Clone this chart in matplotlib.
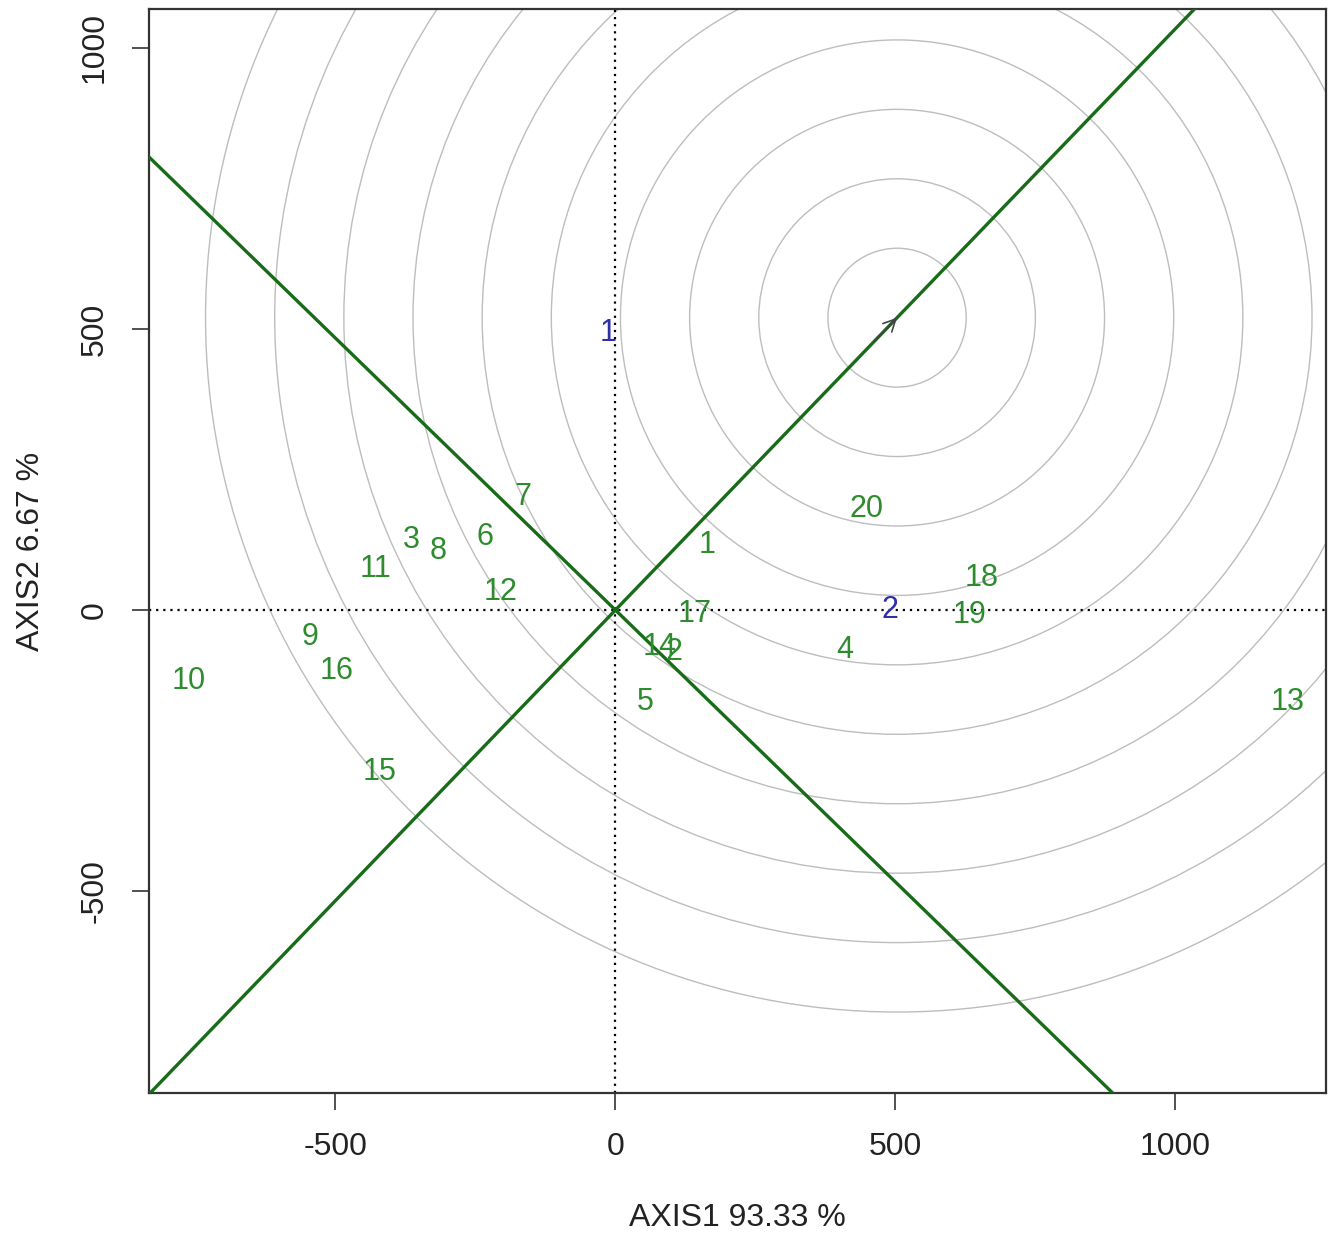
import numpy as np
import matplotlib
matplotlib.use("Agg")
import matplotlib.pyplot as plt
from matplotlib import font_manager
from matplotlib.patches import Circle

# genotype scores (AXIS1, AXIS2)
gen_labels = [str(i) for i in range(1, 21)]
gen_x = [163, 104, -365, 410, 54, -233, -165, -317, -546, -762,
         -429, -205, 1201, 79, -421, -498, 142, 654, 633, 449]
gen_y = [116, -75, 125, -71, -164, 130, 201, 105, -48, -126,
         73, 32, -164, -66, -288, -108, -7, 57, -9, 180]

# environment scores
env_labels = ["1", "2"]
env_x = [-13, 490]
env_y = [493, 0]

# ideal genotype (centre of the concentric circles)
ideal_x, ideal_y = 503, 520
circle_step = 123.5
n_circles = 10

xlim = (-833, 1269)
ylim = (-859, 1069)

names = {f.name for f in font_manager.fontManager.ttflist}
fam = "Liberation Sans Narrow" if "Liberation Sans Narrow" in names else "Liberation Sans"
plt.rcParams["font.family"] = [fam, "DejaVu Sans"]

GREEN_LINE = "#186c18"
GREEN_TXT = "#2e8b2e"
BLUE_TXT = "#2f2fa8"

fig = plt.figure(figsize=(13.4, 12.34), dpi=100)
ax = fig.add_axes([149 / 1340, 1 - 1093 / 1234, 1177 / 1340, 1084 / 1234])

# concentric circles around the ideal point
for k in range(1, n_circles + 1):
    ax.add_patch(Circle((ideal_x, ideal_y), circle_step * k, fill=False,
                        ec="#bdbdbd", lw=1.0, zorder=1))

# dotted axes through the origin
ax.axhline(0, color="black", ls=(0, (1, 2.2)), lw=1.6, zorder=2)
ax.axvline(0, color="black", ls=(0, (1, 2.2)), lw=1.6, zorder=2)

# average environment axis and its perpendicular
slope = ideal_y / ideal_x
ax.axline((0, 0), slope=slope, color=GREEN_LINE, lw=2.4, zorder=3)
ax.axline((0, 0), slope=-1 / slope, color=GREEN_LINE, lw=2.4, zorder=3)

# small arrow at the ideal point
ax.annotate("", xy=(ideal_x, ideal_y),
            xytext=(ideal_x - 40, ideal_y - 40 * slope),
            arrowprops=dict(arrowstyle="->", color="#444444", lw=1.2,
                            mutation_scale=22, shrinkA=0, shrinkB=0),
            zorder=4)

for lab, x, y in zip(gen_labels, gen_x, gen_y):
    ax.text(x, y, lab, color=GREEN_TXT, fontsize=22, ha="center",
            va="center", zorder=5)
for lab, x, y in zip(env_labels, env_x, env_y):
    ax.text(x, y, lab, color=BLUE_TXT, fontsize=22, ha="center",
            va="center", zorder=5)

ax.set_xlim(*xlim)
ax.set_ylim(*ylim)

ax.set_xticks([-500, 0, 500, 1000])
ax.set_xticklabels(["-500", "0", "500", "1000"])
ax.set_yticks([-500, 0, 500, 1000])
ax.set_yticklabels(["-500", "0", "500", "1000"], rotation=90, va="center")
ax.tick_params(direction="out", length=12, width=1.1, color="#222222",
               labelsize=23, pad=16, labelcolor="#222222")

for s in ax.spines.values():
    s.set_color("#333333")
    s.set_linewidth(1.6)

fig.text((149 + 1326) / 2 / 1340, 1 - 1218 / 1234, "AXIS1 93.33 %",
         ha="center", va="center", fontsize=23, color="#222222")
fig.text(31 / 1340, 1 - 551 / 1234, "AXIS2 6.67 %", rotation=90,
         ha="center", va="center", fontsize=23, color="#222222")

fig.savefig("out.png", dpi=100, facecolor="white")
